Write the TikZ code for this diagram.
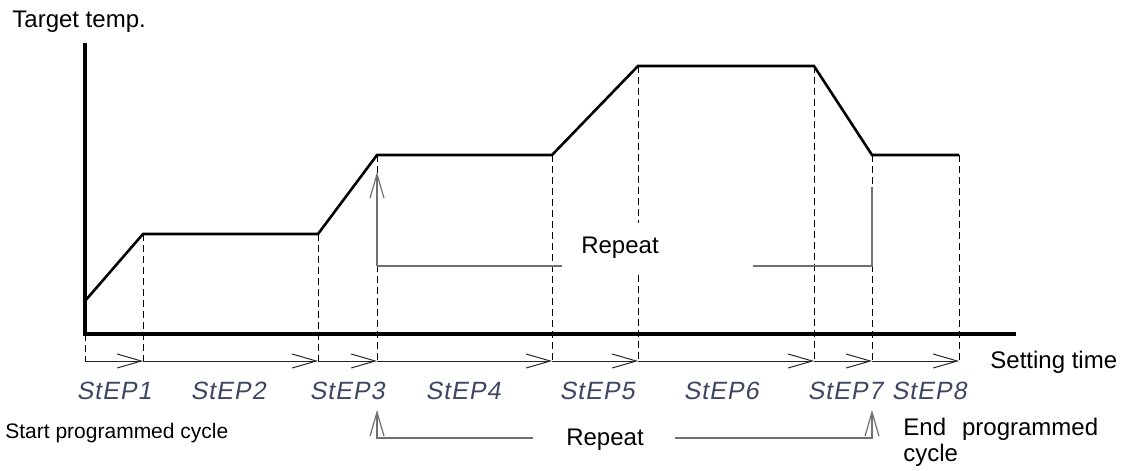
\documentclass[tikz,border=0pt]{standalone}
\usepackage{fontspec}
\setmainfont{Liberation Sans}
\newfontfamily\stepfont[FakeSlant=0.18,LetterSpace=4]{Liberation Sans}
\usetikzlibrary{arrows.meta}
\definecolor{stepblue}{RGB}{62,70,98}
\definecolor{repgray}{RGB}{112,112,112}

\begin{document}
\begin{tikzpicture}[x=0.5pt,y=-0.5pt,
  axis/.style={line width=1.6pt},
  profile/.style={line width=1.3pt,line join=miter},
  guide/.style={line width=0.5pt,dash pattern=on 3.5pt off 2pt},
  chev/.style={-{Straight Barb[length=12pt,width=7pt]}},
  timeline/.style={line width=0.5pt,black!85,chev},
  repline/.style={line width=0.6pt,repgray},
  lbl/.style={font=\fontsize{12}{14}\selectfont,inner sep=0pt},
  steplbl/.style={font=\fontsize{12.5}{15}\selectfont\stepfont,text=stepblue,inner sep=0pt,anchor=base}]
  \useasboundingbox (0,0) rectangle (1126,471);
  % Points of the profile and marks on the time line
  \foreach \x/\y [count=\i from 0] in {85/301,143/234,318/234,377/155,552/155,638/66,814/66,872/155,959/155} {
    \coordinate (p\i) at (\x,\y);
    \coordinate (t\i) at (\x,361);
  }
  \coordinate (o) at (85,334);
  % Axes
  \draw[axis] (85,43) coordinate (ytop) -- (o) -- (1016,334) coordinate (xend);
  \node[lbl,anchor=base west] (ylabel) at (12,27) {Target temp.};
  % Dashed guides
  \draw[guide] (o) -- (t0);
  \foreach \i in {1,...,8} {
    \draw[guide] (p\i) -- (t\i);
  }
  % Profile
  \draw[profile] (p0) -- (p1) -- (p2) -- (p3) -- (p4) -- (p5) -- (p6) -- (p7) -- (p8);
  % Time line
  \foreach \i [count=\j from 1] in {0,...,7} {
    \draw[timeline] (t\i) -- (t\j);
  }
  \node[lbl,anchor=base west] (xlabel) at (990,368) {Setting time};
  % Step names
  \foreach \x/\n in {114/1,228/2,347/3,463/4,597/5,721/6,845/7,929/8} {
    \node[steplbl] (s\n) at (\x,399) {StEP\n};
  }
  % Upper repeat
  \coordinate (ua) at (377,172);
  \coordinate (ub) at (377,266);
  \coordinate (uc) at (562,266);
  \coordinate (ud) at (753,266);
  \coordinate (ue) at (872,266);
  \coordinate (uf) at (872,187);
  \draw[repline,chev] (ub) -- (ua);
  \draw[repline] (ub) -- (uc);
  \draw[repline] (ud) -- (ue) -- (uf);
  \node[lbl,fill=white,minimum height=25pt,inner xsep=2pt] (rep1) at (620,248) {Repeat};
  % Lower repeat
  \coordinate (la) at (377,410);
  \coordinate (lb) at (377,438);
  \coordinate (lc) at (533,438);
  \coordinate (ld) at (675,438);
  \coordinate (le) at (872,438);
  \coordinate (lf) at (872,410);
  \draw[repline,chev] (lc) -- (lb) -- (la);
  \draw[repline,chev] (ld) -- (le) -- (lf);
  \node[lbl,anchor=base] (rep2) at (605,445) {Repeat};
  % Start and end
  \node[font=\fontsize{10.5}{12}\selectfont,inner sep=0pt,anchor=base west] (start) at (5,438) {Start programmed cycle};
  \node[lbl,font=\fontsize{12}{13}\selectfont,align=left,anchor=north west] (stop) at (903,418) {End\hspace{8pt}programmed\\cycle};
\end{tikzpicture}
\end{document}
